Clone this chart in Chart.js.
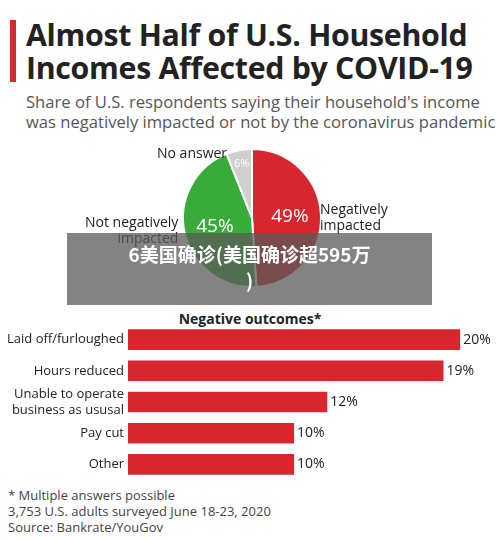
<!DOCTYPE html>
<html><head><meta charset="utf-8">
<script src="https://cdn.jsdelivr.net/npm/chart.js@4"></script>
<style>
body{margin:0;width:500px;height:540px;background:#fff;font-family:"Open Sans",Arial,sans-serif;position:relative;overflow:hidden}
.abs{position:absolute}
#bar{left:10px;top:20px;width:6px;height:62px;background:#d7262e}
#title{left:26px;top:18px;font-size:30.3px;font-weight:bold;line-height:33px;color:#222;letter-spacing:-0.3px;white-space:nowrap}
#sub{left:26px;top:92px;font-size:16.6px;line-height:20px;color:#555;white-space:nowrap}
.lbl{font-size:14px;color:#222;line-height:16px}
#banner{left:67px;top:233px;width:365px;height:72px;background:rgba(90,90,90,0.75);color:#fff;font-weight:bold;font-size:19px;text-align:center;line-height:26px;padding-top:8px;box-sizing:border-box;font-family:"Noto Sans CJK SC",sans-serif}
#neg{left:0;width:500px;top:309px;text-align:center;font-size:14px;font-weight:bold;color:#222}
#foot{left:8px;top:487px;font-size:13px;line-height:16px;color:#444}
</style></head><body>
<div id="bar" class="abs"></div>
<div id="title" class="abs">Almost Half of U.S. Household<br>Incomes Affected by COVID-19</div>
<div id="sub" class="abs">Share of U.S. respondents saying their household's income<br>was negatively impacted or not by the coronavirus pandemic</div>
<div class="abs" style="left:172px;top:138px;width:160px;height:160px"><canvas id="pie"></canvas></div>
<div class="abs lbl" style="left:157px;top:145px">No answer</div>
<div class="abs lbl" style="left:320px;top:201px">Negatively<br>impacted</div>
<div class="abs lbl" style="left:85px;top:214px;text-align:right">Not negatively<br>impacted</div>
<div id="banner" class="abs">6美国确诊(美国确诊超595万<br>)</div>
<div id="neg" class="abs">Negative outcomes*</div>
<div class="abs" style="left:0;top:324px;width:500px;height:156px"><canvas id="bars"></canvas></div>
<div id="foot" class="abs">* Multiple answers possible<br>3,753 U.S. adults surveyed June 18-23, 2020<br>Source: Bankrate/YouGov</div>
<script>
const pieLabels = ["Negatively impacted", "Not negatively impacted", "No answer"];
const pieValues = [49, 45, 6];
const pieColors = ["#d7262e", "#3aab3a", "#cfcfcf"];

const outcomeLabels = ["Laid off/furloughed", "Hours reduced", ["Unable to operate", "business as ususal"], "Pay cut", "Other"];
const outcomeValues = [20, 19, 12, 10, 10];

Chart.defaults.font.family = '"Open Sans", Arial, sans-serif';

const pctInside = {
  id: "pctInside",
  afterDatasetsDraw(chart) {
    const ctx = chart.ctx;
    chart.getDatasetMeta(0).data.forEach((arc, i) => {
      const big = pieValues[i] > 10;
      const a = (arc.startAngle + arc.endAngle) / 2;
      const r = big ? arc.outerRadius * 0.55 : arc.outerRadius * 0.8;
      ctx.save();
      ctx.fillStyle = "#fff";
      ctx.font = big ? "19px 'Open Sans'" : "11px 'Open Sans'";
      ctx.textAlign = "center";
      ctx.textBaseline = "middle";
      ctx.fillText(pieValues[i] + "%", arc.x + Math.cos(a) * r, arc.y + Math.sin(a) * r);
      ctx.restore();
    });
  }
};

new Chart(document.getElementById("pie"), {
  type: "pie",
  data: { labels: pieLabels, datasets: [{ data: pieValues, backgroundColor: pieColors, borderColor: "#fff", borderWidth: 2 }] },
  options: {
    responsive: true, maintainAspectRatio: false, animation: false,
    layout: { padding: 10 },
    plugins: { legend: { display: false }, tooltip: { enabled: false } }
  },
  plugins: [pctInside]
});

// value labels right of bars, category labels right-aligned left of bars
const barText = {
  id: "barText",
  afterDatasetsDraw(chart) {
    const ctx = chart.ctx;
    ctx.save();
    ctx.fillStyle = "#222";
    ctx.textBaseline = "middle";
    chart.getDatasetMeta(0).data.forEach((b, i) => {
      ctx.font = "14px 'Open Sans'";
      ctx.textAlign = "left";
      ctx.fillText(outcomeValues[i] + "%", b.x + 3, b.y);
      ctx.font = "13px 'Open Sans'";
      ctx.textAlign = "right";
      const lines = [].concat(outcomeLabels[i]);
      lines.forEach((t, k) => ctx.fillText(t, chart.chartArea.left - 4, b.y + (k - (lines.length - 1) / 2) * 16));
    });
    ctx.restore();
  }
};

new Chart(document.getElementById("bars"), {
  type: "bar",
  data: { labels: outcomeLabels, datasets: [{ data: outcomeValues, backgroundColor: "#d7262e", barPercentage: 0.66, categoryPercentage: 1 }] },
  options: {
    indexAxis: "y", responsive: true, maintainAspectRatio: false, animation: false,
    layout: { padding: { left: 128, top: 0, bottom: 0, right: 0 } },
    plugins: { legend: { display: false }, tooltip: { enabled: false } },
    scales: {
      x: { display: false, min: 0, max: 22.4 },
      y: { display: false }
    }
  },
  plugins: [barText]
});
</script>
</body></html>
